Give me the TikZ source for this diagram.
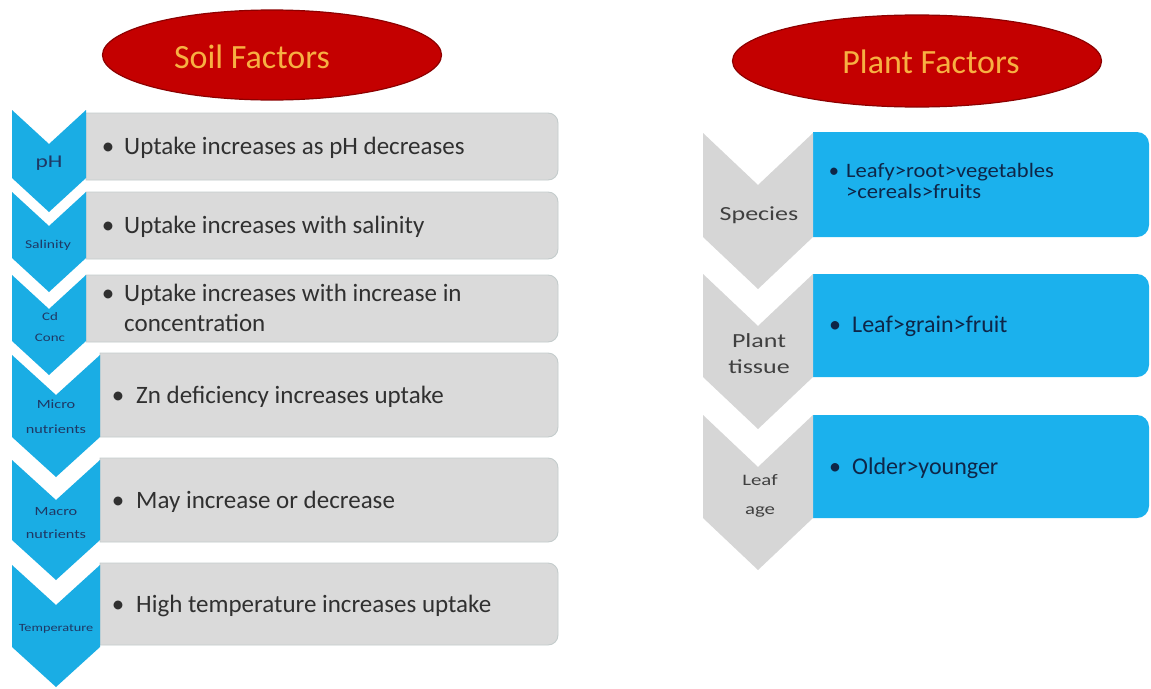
\documentclass[tikz,border=0pt]{standalone}
\usepackage{fontspec}
\setmainfont{Carlito}
\newfontfamily\chevfont[FakeStretch=1.3]{Carlito}
\newfontfamily\midfont[FakeStretch=1.1]{Carlito}
\usetikzlibrary{shapes.geometric}
\definecolor{ellfill}{RGB}{196,0,0}
\definecolor{elledge}{RGB}{140,0,0}
\definecolor{titletext}{RGB}{247,176,66}
\definecolor{chevblue}{RGB}{26,173,228}
\definecolor{boxblue}{RGB}{27,177,237}
\definecolor{boxgray}{RGB}{218,218,218}
\definecolor{boxedge}{RGB}{196,204,204}
\definecolor{chevgray}{RGB}{214,214,214}
\definecolor{navylbl}{RGB}{31,56,100}
\definecolor{navytxt}{RGB}{14,38,72}
\definecolor{soiltxt}{RGB}{48,48,48}
\definecolor{plantlbl}{RGB}{64,64,64}
\newcommand\rrbox[6]{%
  \path[#1] (#2,#3) -- ({#4-#6},#3) arc[start angle=-90,end angle=0,radius=#6]
    -- (#4,{#5-#6}) arc[start angle=0,end angle=90,radius=#6] -- (#2,#5) -- cycle;}
\newcommand\chevshape[6]{%
  \path[#1] (#2,#3) -- ({(#2+#4)/2},{#3+#6}) -- (#4,#3) -- (#4,#5)
    -- ({(#2+#4)/2},{#5+#6}) -- (#2,#5) -- cycle;}
\begin{document}
\begin{tikzpicture}[x=1pt,y=-1pt,
  soilbox/.style={fill=boxgray,draw=boxedge,line width=0.9pt},
  plantbox/.style={fill=boxblue},
  soilchev/.style={fill=chevblue},
  plantchev/.style={fill=chevgray},
  title/.style={ellipse,fill=ellfill,draw=elledge,line width=1.2pt,inner sep=0pt},
  titletxt/.style={anchor=base,inner sep=0pt,text=titletext,font=\fontsize{34}{40}\selectfont},
  stxt/.style={anchor=base west,inner sep=0pt,text=soiltxt,font=\fontsize{25}{30}\selectfont},
  sbul/.style={anchor=base,inner sep=0pt,text=soiltxt,font=\fontsize{25}{30}\selectfont},
  ptxt/.style={anchor=base west,inner sep=0pt,text=navytxt,font=\fontsize{24}{29}\selectfont},
  pbul/.style={anchor=base,inner sep=0pt,text=navytxt,font=\fontsize{24}{29}\selectfont},
  ptxtsmall/.style={anchor=base west,inner sep=0pt,text=navytxt,font=\midfont\fontsize{20.5}{24}\selectfont},
  pbulsmall/.style={anchor=base,inner sep=0pt,text=navytxt,font=\fontsize{20.5}{24}\selectfont},
  slbl/.style={anchor=base,inner sep=0pt,text=navylbl},
  plbl/.style={anchor=base,inner sep=0pt,text=plantlbl}]
\useasboundingbox (0,0) rectangle (1151,688);
\fill[white] (0,0) rectangle (1151,688);

% titles
\node[title,minimum width=339pt,minimum height=90pt] (soilell) at (272,55) {};
\node[titletxt] (soiltitle) at (252,68) {Soil Factors};
\node[title,minimum width=369pt,minimum height=92pt] (plantell) at (917,61) {};
\node[titletxt] (planttitle) at (931,73) {Plant Factors};

% soil boxes
\rrbox{soilbox}{86}{113}{558}{180}{10}
\rrbox{soilbox}{86}{192}{558}{259}{10}
\rrbox{soilbox}{86}{275}{558}{342}{10}
\rrbox{soilbox}{100}{353}{558}{437}{10}
\rrbox{soilbox}{100}{458}{558}{542}{10}
\rrbox{soilbox}{100}{563}{558}{645}{10}
% soil chevrons
\chevshape{soilchev}{12}{110}{86}{178}{34}
\chevshape{soilchev}{12}{192}{86}{258}{34}
\chevshape{soilchev}{12}{275}{86}{341}{34}
\chevshape{soilchev}{12}{355}{100}{437}{40}
\chevshape{soilchev}{12}{460}{100}{540}{40}
\chevshape{soilchev}{12}{565}{100}{647}{40}

% soil chevron labels
\node[slbl,font=\chevfont\fontsize{18}{20}\selectfont] (lph) at (49,167) {pH};
\node[slbl,font=\chevfont\fontsize{12}{14}\selectfont] (lsal) at (48,248) {Salinity};
\node[slbl,font=\chevfont\fontsize{11.5}{14}\selectfont] (lcd) at (50,320) {Cd};
\node[slbl,font=\chevfont\fontsize{11.5}{14}\selectfont] (lconc) at (50,341) {Conc};
\node[slbl,font=\chevfont\fontsize{12.5}{14}\selectfont] (lmic1) at (56,408) {Micro};
\node[slbl,font=\chevfont\fontsize{12.5}{14}\selectfont] (lmic2) at (56,433) {nutrients};
\node[slbl,font=\chevfont\fontsize{12.5}{14}\selectfont] (lmac1) at (56,515) {Macro};
\node[slbl,font=\chevfont\fontsize{12.5}{14}\selectfont] (lmac2) at (56,538) {nutrients};
\node[slbl,font=\chevfont\fontsize{11}{13}\selectfont] (ltemp) at (56,631) {Temperature};

% soil box texts
\node[sbul] (b1) at (108,154) {•};
\node[stxt] (t1) at (124,154) {Uptake increases as pH decreases};
\node[sbul] (b2) at (108,233) {•};
\node[stxt] (t2) at (124,233) {Uptake increases with salinity};
\node[sbul] (b3) at (108,301) {•};
\node[stxt] (t3a) at (124,301) {Uptake increases with increase in};
\node[stxt] (t3b) at (124,331) {concentration};
\node[sbul] (b4) at (118,403) {•};
\node[stxt] (t4) at (136,403) {Zn deficiency increases uptake};
\node[sbul] (b5) at (118,508) {•};
\node[stxt] (t5) at (136,508) {May increase or decrease};
\node[sbul] (b6) at (118,612) {•};
\node[stxt] (t6) at (136,612) {High temperature increases uptake};

% plant boxes
\rrbox{plantbox}{813}{132}{1149}{237}{12}
\rrbox{plantbox}{813}{274}{1149}{377}{12}
\rrbox{plantbox}{813}{415}{1149}{518}{12}
% plant chevrons
\chevshape{plantchev}{703}{133}{813}{237}{52}
\chevshape{plantchev}{703}{274}{813}{377}{52}
\chevshape{plantchev}{703}{415}{813}{518}{52}

% plant chevron labels
\node[plbl,font=\chevfont\fontsize{20}{24}\selectfont] (lspec) at (759,220) {Species};
\node[plbl,font=\chevfont\fontsize{20}{24}\selectfont] (lplant) at (759,347) {Plant};
\node[plbl,font=\chevfont\fontsize{20}{24}\selectfont] (ltiss) at (759,373) {tissue};
\node[plbl,font=\chevfont\fontsize{16}{20}\selectfont] (lleaf) at (760,485) {Leaf};
\node[plbl,font=\chevfont\fontsize{16}{20}\selectfont] (lage) at (760,514) {age};

% plant box texts
\node[pbulsmall] (p1b) at (834,177) {•};
\node[ptxtsmall] (p1a) at (846,177) {Leafy>root>vegetables};
\node[ptxtsmall] (p1c) at (846,198) {>cereals>fruits};
\node[pbul] (p2b) at (835,332) {•};
\node[ptxt] (p2) at (852,332) {Leaf>grain>fruit};
\node[pbul] (p3b) at (835,474) {•};
\node[ptxt] (p3) at (852,474) {Older>younger};
\end{tikzpicture}
\end{document}
